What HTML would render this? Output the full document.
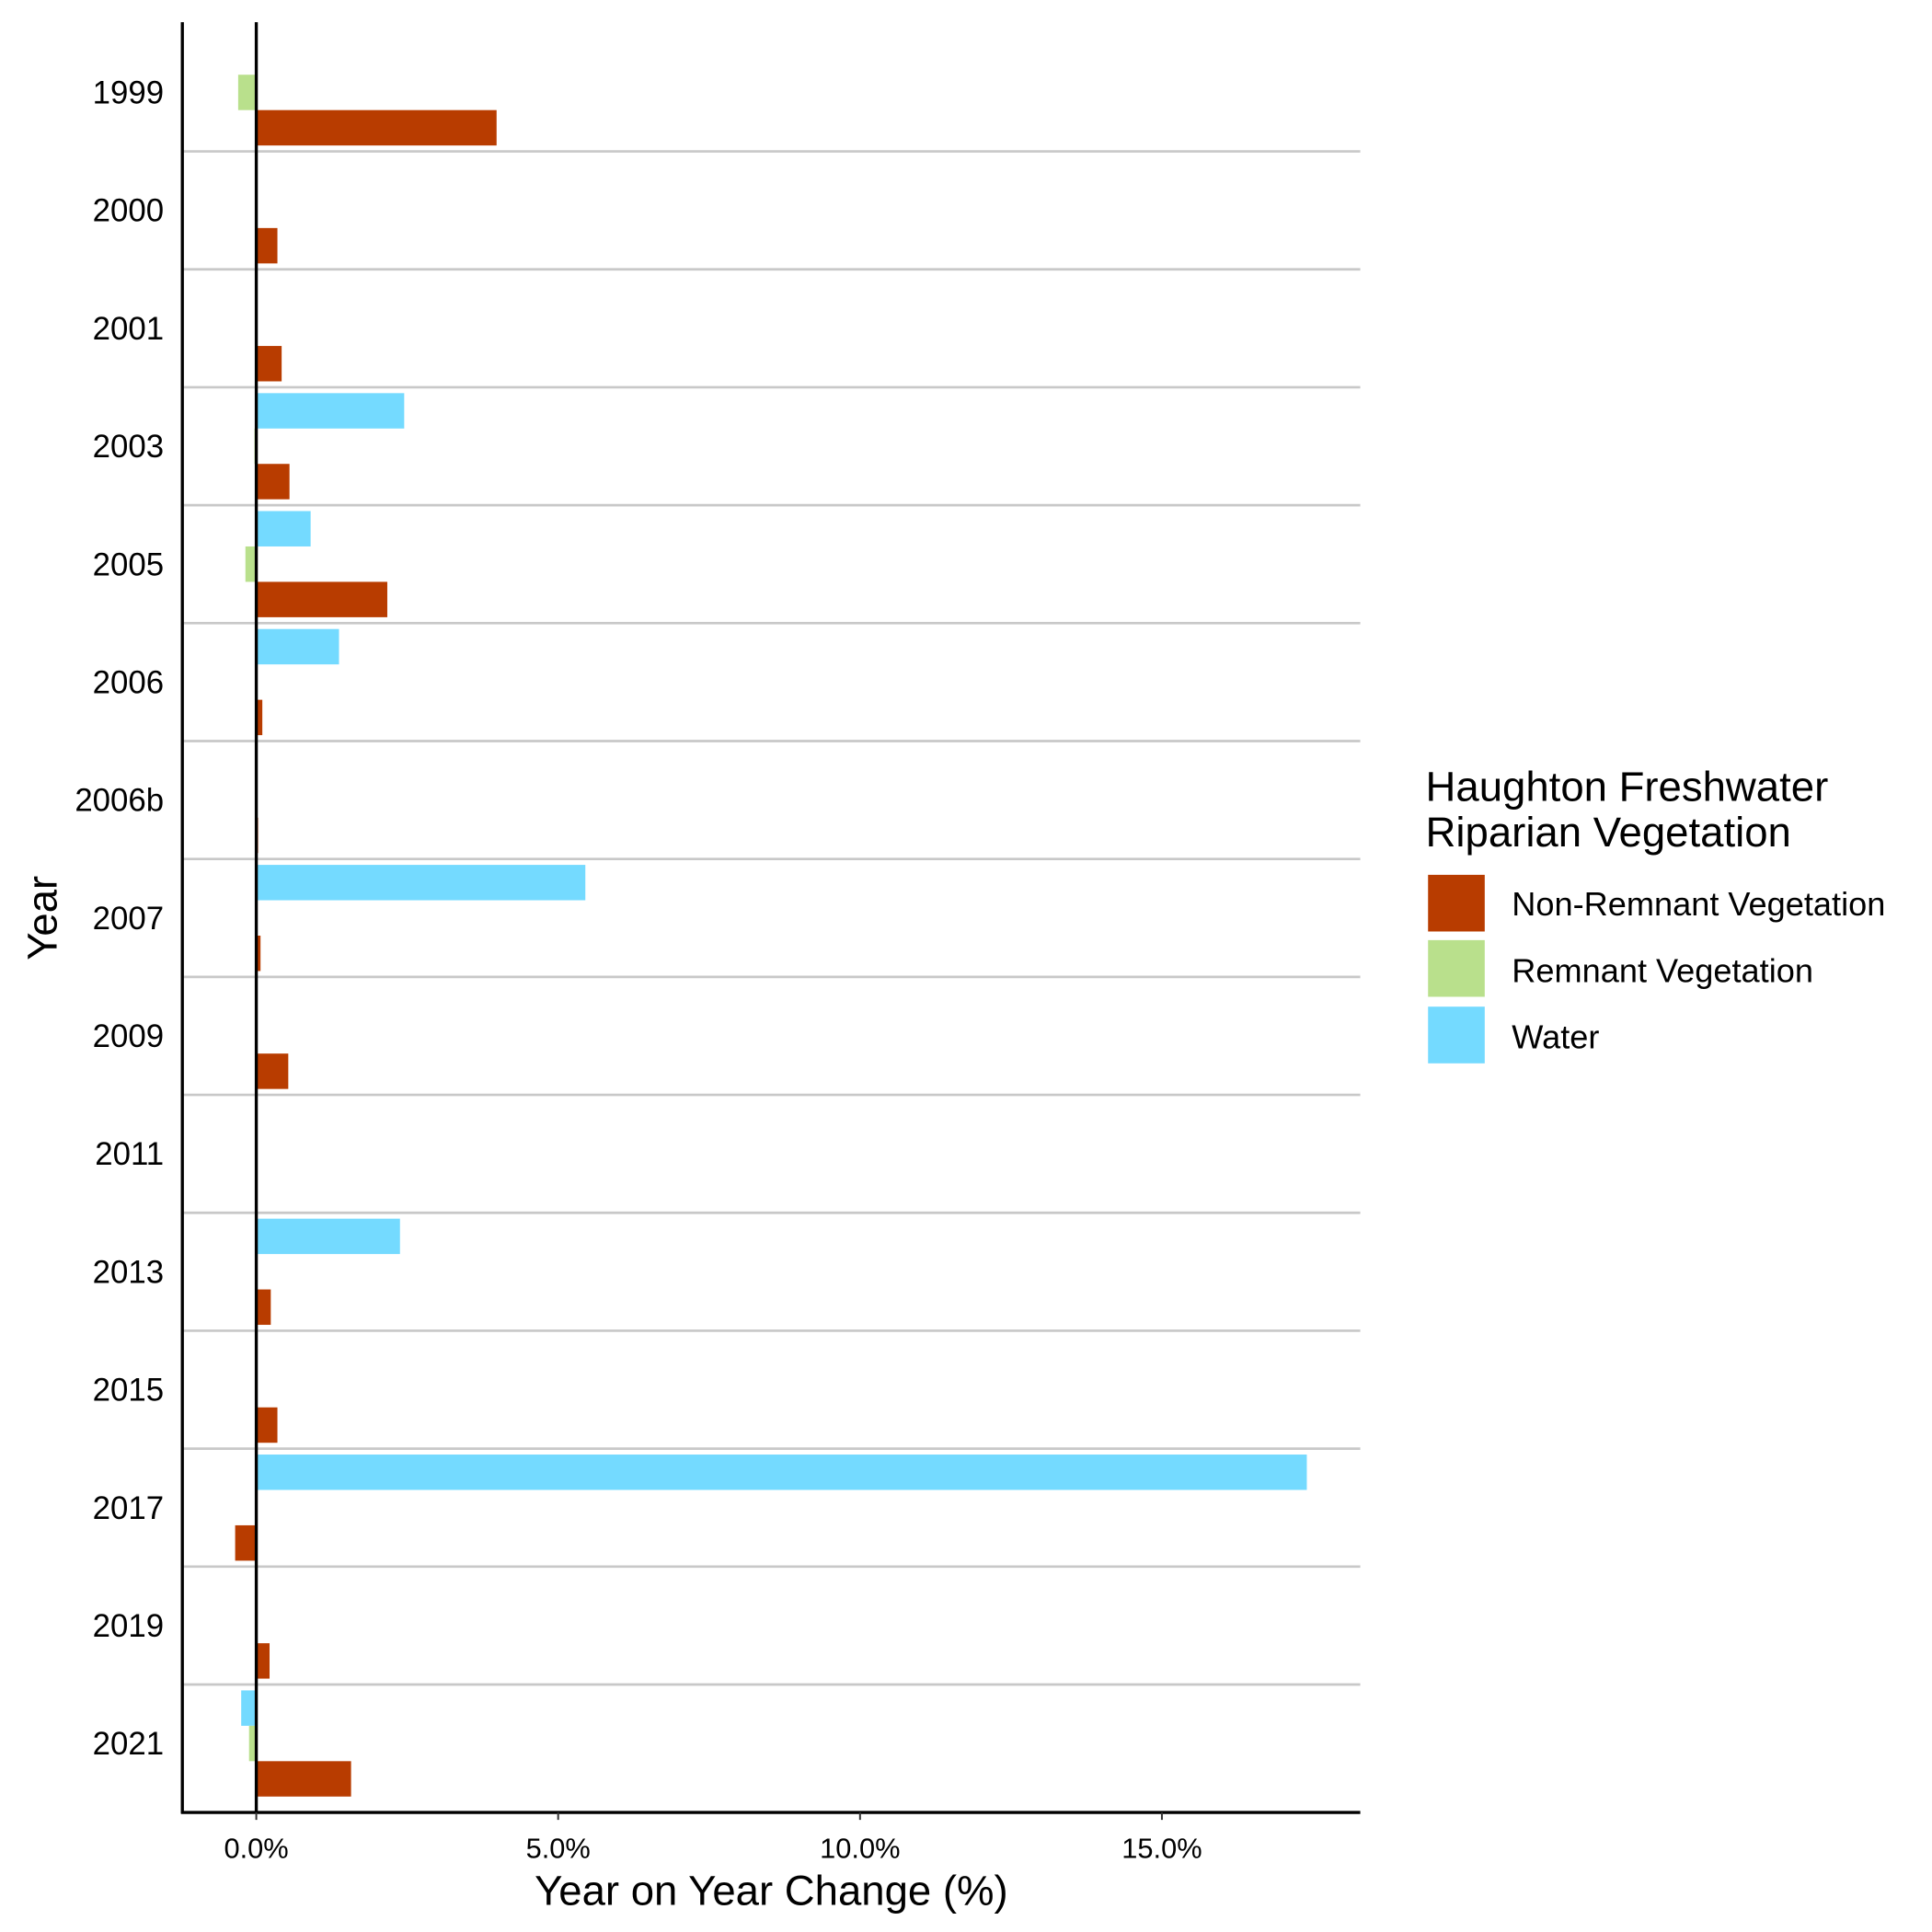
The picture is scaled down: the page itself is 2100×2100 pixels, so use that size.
<!DOCTYPE html>
<html><head><meta charset="utf-8"><style>
html,body{margin:0;padding:0;background:#fff;}
svg{display:block;font-family:"Liberation Sans",Arial,sans-serif;}
</style></head><body>
<svg id="chart" width="2100" height="2100" viewBox="0 0 1568 1568" xmlns="http://www.w3.org/2000/svg">
<g id="grid"></g>
<g id="bars"></g>
<g id="axes"></g>
<text x="626" y="1546" font-size="34" text-anchor="middle">Year on Year Change (%)</text>
<text transform="translate(46,745) rotate(-90)" font-size="34" text-anchor="middle">Year</text>
<g>
<text x="1157" y="650" font-size="34">Haughton Freshwater</text>
<text x="1157" y="687" font-size="34">Riparian Vegetation</text>
<rect x="1158" y="709" width="48" height="48" fill="#B83C00" stroke="#fff" stroke-width="2"/>
<text x="1227" y="743" font-size="27">Non-Remnant Vegetation</text>
<rect x="1158" y="762" width="48" height="48" fill="#B9E08C" stroke="#fff" stroke-width="2"/>
<text x="1227" y="797" font-size="27">Remnant Vegetation</text>
<rect x="1158" y="816" width="48" height="48" fill="#74DAFF" stroke="#fff" stroke-width="2"/>
<text x="1227" y="851" font-size="27">Water</text>
</g>
</svg>
<script>
const categories = ["1999","2000","2001","2003","2005","2006","2006b","2007","2009","2011","2013","2015","2017","2019","2021"];
const water = [0,0,0,2.45,0.9,1.37,0,5.45,0,0,2.38,0,17.4,0,-0.25];
const remnant = [-0.3,0,0,-0.03,-0.18,0,0,0,-0.02,0,0,0,0,0,-0.12];
const nonRemnant = [3.98,0.35,0.42,0.55,2.17,0.1,0.03,0.07,0.53,0.02,0.24,0.35,-0.35,0.22,1.57];
const xTicks = [0,5,10,15];
const xTickLabels = ["0.0%","5.0%","10.0%","15.0%"];

const NS = "http://www.w3.org/2000/svg";
const plotL = 148, plotR = 1104, plotT = 18, plotB = 1471;
const zeroX = 208, pxPerPct = 49;
const xScale = v => zeroX + v * pxPerPct;
const firstC = 75, step = (1415 - 75) / 14;
const yCenter = i => firstC + i * step;
const slot = step * 0.9 / 3;

function mk(tag, attrs, parent) {
  const el = document.createElementNS(NS, tag);
  for (const k in attrs) el.setAttribute(k, attrs[k]);
  parent.appendChild(el);
  return el;
}
const grid = document.getElementById('grid');
const bars = document.getElementById('bars');
const axes = document.getElementById('axes');

for (let i = 0; i < categories.length - 1; i++) {
  const y = (yCenter(i) + yCenter(i + 1)) / 2;
  const l = mk('line', {x1: plotL, x2: plotR, y1: y, y2: y, stroke: '#c8c8c8', 'stroke-width': 2}, grid);
  
  
}

const series = [[water, '#74DAFF', 'water'], [remnant, '#B9E08C', 'remnant'], [nonRemnant, '#B83C00', 'non-remnant']];
categories.forEach((c, i) => {
  const top = yCenter(i) - slot * 1.5;
  series.forEach((s, j) => {
    const v = s[0][i];
    if (v === 0) return;
    const x1 = xScale(Math.min(0, v)), x2 = xScale(Math.max(0, v));
    const r = mk('rect', {x: x1, y: top + j * slot, width: Math.max(x2 - x1, 0.8), height: slot, fill: s[1]}, bars);
    
    
  });
  const t = mk('text', {x: 133, y: yCenter(i) + 9, 'font-size': 26, 'text-anchor': 'end', fill: '#000'}, axes);
  t.textContent = c;
  
  
});

const ya = mk('line', {x1: plotL, x2: plotL, y1: plotT, y2: plotB + 1, stroke: '#000', 'stroke-width': 2.5}, axes);


const xa = mk('line', {x1: plotL - 1, x2: plotR, y1: plotB, y2: plotB, stroke: '#000', 'stroke-width': 2.5}, axes);


const zl = mk('line', {x1: xScale(0), x2: xScale(0), y1: plotT, y2: plotB, stroke: '#000', 'stroke-width': 2.5}, axes);



xTicks.forEach((v, k) => {
  const x = xScale(v);
  const tk = mk('line', {x1: x, x2: x, y1: plotB, y2: plotB + 6, stroke: '#333', 'stroke-width': 1.5}, axes);
  
  
  const t = mk('text', {x: x, y: plotB + 37, 'font-size': 23, 'text-anchor': 'middle', fill: '#000'}, axes);
  t.textContent = xTickLabels[k];
  
  
});
</script>
</body></html>
